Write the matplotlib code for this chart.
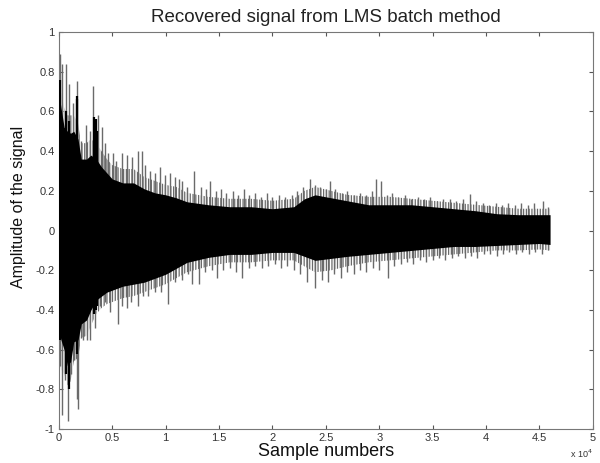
import matplotlib

matplotlib.use("Agg")

import matplotlib.pyplot as plt
import numpy as np
from matplotlib.ticker import FuncFormatter

plt.rcParams["font.family"] = ["Liberation Sans", "DejaVu Sans"]
plt.rcParams["hatch.linewidth"] = 0.9

# solid core of the signal (dense black band)
core_x = [0, 200, 500, 800, 1100, 1400, 1800, 2100, 2600, 3000, 3500, 4000,
          4500, 5000, 6000, 7000, 8000, 9000, 10000, 11000, 12000, 14000,
          16000, 18000, 20000, 22000, 23000, 24000, 25500, 27000, 29000,
          31000, 33000, 35000, 37000, 39000, 41000, 43000, 45000, 46000]
core_hi = [0.70, 0.62, 0.52, 0.50, 0.49, 0.50, 0.46, 0.36, 0.36, 0.38, 0.36,
           0.32, 0.29, 0.26, 0.24, 0.24, 0.21, 0.19, 0.18, 0.165, 0.145, 0.13,
           0.12, 0.12, 0.11, 0.12, 0.16, 0.18, 0.165, 0.15, 0.13, 0.13, 0.13,
           0.12, 0.11, 0.10, 0.085, 0.08, 0.08, 0.08]
core_lo = [-0.50, -0.55, -0.60, -0.68, -0.66, -0.56, -0.55, -0.47, -0.45,
           -0.40, -0.35, -0.33, -0.31, -0.30, -0.28, -0.27, -0.26, -0.24,
           -0.22, -0.19, -0.16, -0.135, -0.12, -0.12, -0.11, -0.11, -0.13,
           -0.15, -0.14, -0.13, -0.12, -0.11, -0.10, -0.09, -0.08, -0.08,
           -0.075, -0.07, -0.065, -0.07]

# grey fringe of dense small peaks around the core
fringe_hi = [0.80, 0.70, 0.62, 0.58, 0.58, 0.58, 0.54, 0.44, 0.44, 0.46,
             0.44, 0.40, 0.36, 0.33, 0.31, 0.31, 0.27, 0.25, 0.23, 0.22,
             0.19, 0.17, 0.16, 0.16, 0.15, 0.16, 0.20, 0.22, 0.20, 0.18,
             0.17, 0.17, 0.16, 0.15, 0.14, 0.13, 0.12, 0.11, 0.11, 0.11]
fringe_lo = [-0.62, -0.70, -0.72, -0.78, -0.76, -0.66, -0.64, -0.54, -0.53,
             -0.48, -0.42, -0.39, -0.37, -0.36, -0.34, -0.33, -0.31, -0.29,
             -0.27, -0.24, -0.21, -0.18, -0.16, -0.16, -0.15, -0.15, -0.18,
             -0.21, -0.20, -0.18, -0.16, -0.15, -0.14, -0.13, -0.12, -0.11,
             -0.10, -0.10, -0.095, -0.10]

# a few dark (black) peaks inside the early burst
dark_x = [150, 700, 1000, 1700, 1750, 3300, 3450, 3600]
dark_hi = [0.76, 0.60, 0.55, 0.68, 0.66, 0.57, 0.56, 0.50]
dark_lo = [-0.55, -0.72, -0.80, -0.60, -0.62, -0.42, -0.40, -0.38]

# positive peaks sticking out of the band
up_x = [100, 300, 650, 940, 1300, 1750, 2100, 2530, 2900, 3200, 3650, 4000,
        4300, 4600, 5050, 5400, 5900, 6400, 6830, 7400, 7800, 8100, 8500,
        9000, 9450, 9900, 10400, 10850, 11300, 11500, 12000, 12700, 13300,
        13800, 14200, 14700, 15200, 15700, 16300, 16800, 17300, 17800, 18400,
        18900, 19500, 20000, 20600, 21200, 21800, 22300, 22900, 23500, 24000,
        24500, 25000, 25400, 25900, 26500, 27000, 27600, 28200, 28800, 29300,
        29700, 30150, 30700, 31200, 31800, 32400, 33000, 33600, 34200, 34800,
        35400, 36000, 36600, 37200, 37800, 38500, 39100, 39700, 40300, 40900,
        41500, 42100, 42700, 43300, 43900, 44500, 45300, 45800]
up_y = [0.89, 0.84, 0.84, 0.74, 0.64, 0.755, 0.45, 0.53, 0.50, 0.73, 0.58,
        0.52, 0.44, 0.39, 0.39, 0.35, 0.39, 0.38, 0.37, 0.40, 0.40, 0.33,
        0.30, 0.29, 0.32, 0.28, 0.29, 0.27, 0.26, 0.25, 0.22, 0.30, 0.22,
        0.21, 0.25, 0.20, 0.21, 0.19, 0.20, 0.18, 0.21, 0.18, 0.19, 0.17,
        0.19, 0.17, 0.18, 0.17, 0.18, 0.20, 0.22, 0.26, 0.23, 0.22, 0.21,
        0.25, 0.21, 0.19, 0.20, 0.18, 0.19, 0.18, 0.20, 0.26, 0.25, 0.18,
        0.19, 0.17, 0.18, 0.16, 0.17, 0.16, 0.17, 0.15, 0.16, 0.16, 0.15,
        0.16, 0.185, 0.15, 0.14, 0.13, 0.14, 0.13, 0.14, 0.13, 0.14, 0.13,
        0.14, 0.15, 0.12]

# negative peaks
dn_x = [100, 300, 560, 840, 1120, 1400, 1690, 1780, 2060, 2250, 2620, 2900,
        3370, 3840, 4300, 4770, 5520, 5900, 6400, 6740, 7400, 7870, 8330,
        9000, 9600, 10200, 10850, 11500, 12100, 12500, 13100, 13700, 14300,
        14800, 15400, 16000, 16600, 17200, 17800, 18400, 19000, 19600, 20200,
        20800, 21400, 22000, 22600, 23200, 24000, 24600, 25200, 25800, 26400,
        27000, 27600, 28200, 28800, 29400, 30000, 30800, 31400, 32000, 32600,
        33200, 33800, 34400, 35000, 35600, 36200, 36800, 37400, 38000, 38600,
        39200, 39800, 40400, 41000, 41600, 42200, 42800, 43400, 44000, 44600,
        45200, 45800]
dn_y = [-0.68, -0.93, -0.75, -0.96, -0.72, -0.65, -0.85, -0.90, -0.54, -0.55,
        -0.55, -0.55, -0.49, -0.38, -0.36, -0.41, -0.47, -0.38, -0.39, -0.36,
        -0.38, -0.33, -0.33, -0.31, -0.31, -0.37, -0.26, -0.25, -0.22, -0.27,
        -0.27, -0.21, -0.20, -0.24, -0.20, -0.19, -0.21, -0.24, -0.19, -0.18,
        -0.19, -0.18, -0.17, -0.19, -0.18, -0.20, -0.22, -0.26, -0.29, -0.25,
        -0.26, -0.22, -0.24, -0.21, -0.22, -0.20, -0.21, -0.19, -0.20, -0.24,
        -0.18, -0.17, -0.16, -0.17, -0.15, -0.16, -0.15, -0.14, -0.15, -0.14,
        -0.13, -0.14, -0.13, -0.14, -0.12, -0.12, -0.13, -0.12, -0.11, -0.12,
        -0.11, -0.12, -0.11, -0.12, -0.10]

fig = plt.figure(figsize=(6.0, 4.63), dpi=100)
ax = fig.add_axes([0.098, 0.073, 0.890, 0.858])

ax.fill_between(core_x, fringe_lo, fringe_hi, facecolor="none",
                edgecolor="#6a6a6a", hatch="||||||", lw=0, zorder=1)
ax.vlines(up_x, 0, up_y, color="#6a6a6a", lw=1.0, zorder=2)
ax.vlines(dn_x, dn_y, 0, color="#6a6a6a", lw=1.0, zorder=2)
ax.fill_between(core_x, core_lo, core_hi, color="black", lw=0, zorder=3)
ax.vlines(dark_x, dark_lo, dark_hi, color="black", lw=1.6, zorder=3)

ax.set_xlim(0, 50000)
ax.set_ylim(-1, 1)
ax.set_xticks(np.arange(0, 50001, 5000))
ax.xaxis.set_major_formatter(FuncFormatter(lambda v, _: f"{v / 1e4:g}"))
ax.set_yticks(np.arange(-1, 1.01, 0.2))
ax.yaxis.set_major_formatter(FuncFormatter(
    lambda v, _: "0" if abs(v) < 1e-9 else f"{v:.1f}".replace("1.0", "1")))
ax.tick_params(direction="in", length=3, width=0.8, labelsize=8,
               colors="#555555", labelcolor="#333333", top=True, right=True,
               pad=3)
for s in ax.spines.values():
    s.set_color("#777777")
    s.set_linewidth(0.8)

ax.set_title("Recovered signal from LMS batch method", fontsize=13.5, pad=7,
             color="#222222")
ax.set_xlabel("Sample numbers", fontsize=13, labelpad=0, color="#111111")
ax.set_ylabel("Amplitude of the signal", fontsize=11.5, color="#111111")
ax.yaxis.set_label_coords(-0.062, 0.56)
ax.text(1.0, -0.047, r"x 10$^4$", transform=ax.transAxes, fontsize=6.5,
        ha="right", va="top", color="#333333")

fig.savefig("out.png", dpi=100)
